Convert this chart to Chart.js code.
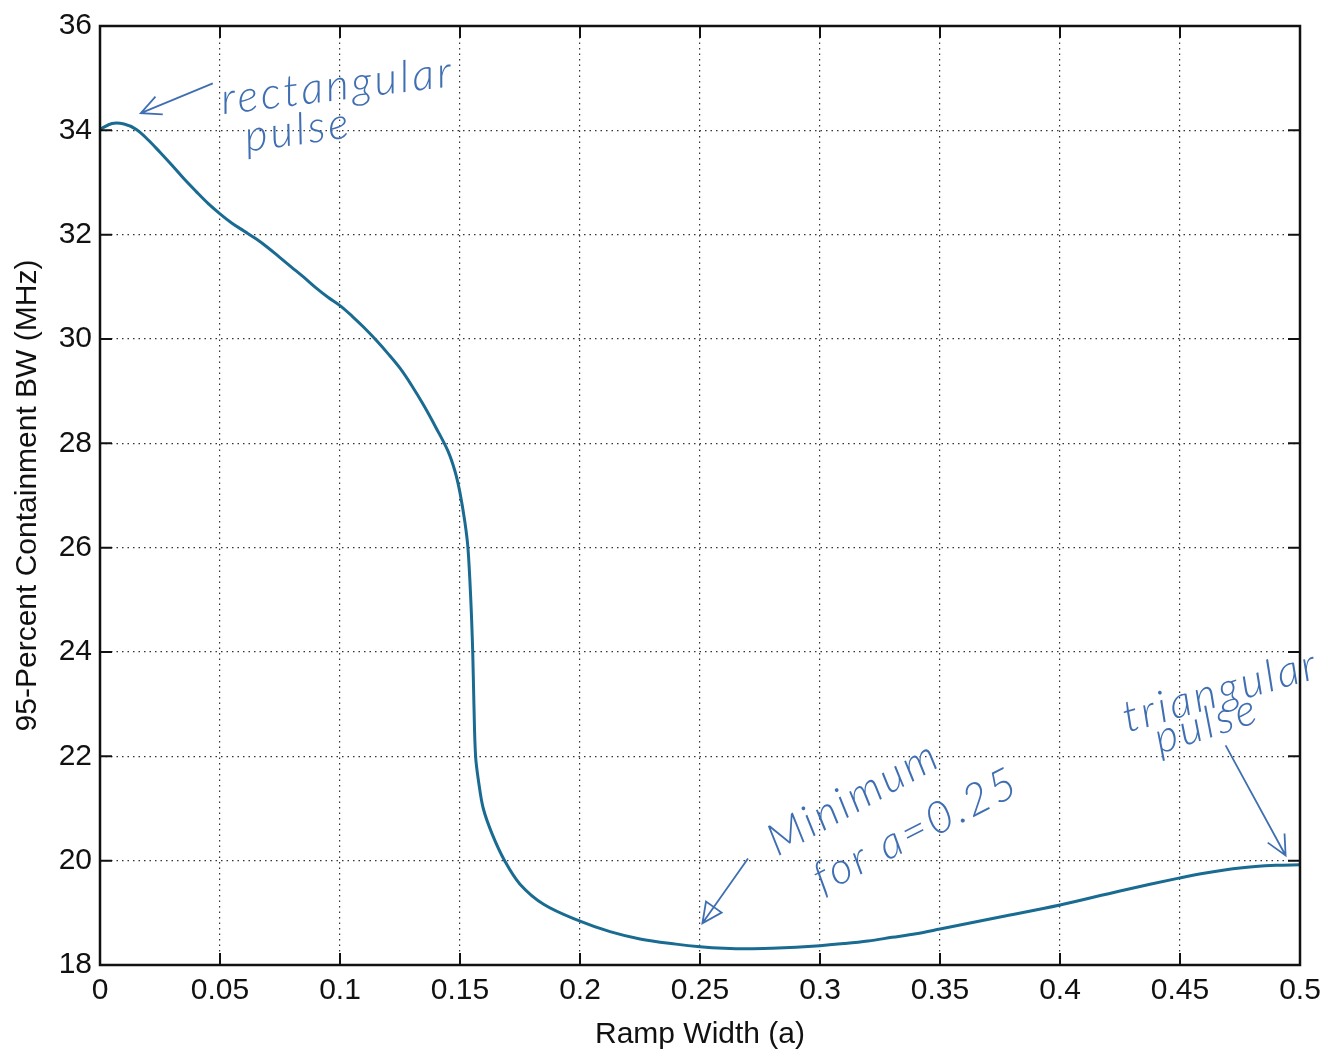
<!DOCTYPE html>
<html>
<head>
<meta charset="utf-8">
<script src="https://cdn.jsdelivr.net/npm/chart.js@4.4.1/dist/chart.umd.min.js"></script>
<style>
  html, body { margin: 0; padding: 0; background: #fff; }
  #wrap { width: 1329px; height: 1055px; }
</style>
</head>
<body>
<div id="wrap"><canvas id="chart" width="1329" height="1055"></canvas></div>
<script>
// ramp width a
const rampWidth = [0, 0.005, 0.01, 0.015, 0.02, 0.025, 0.03, 0.035, 0.04, 0.045, 0.05, 0.055, 0.06, 0.065,
  0.07, 0.075, 0.08, 0.085, 0.09, 0.095, 0.1, 0.105, 0.11, 0.115, 0.12, 0.125, 0.13, 0.135, 0.14, 0.145,
  0.148, 0.15, 0.152, 0.1533, 0.1545, 0.1553, 0.1558, 0.1565, 0.1578, 0.1597, 0.1635, 0.1686, 0.175, 0.185,
  0.2, 0.2125, 0.225, 0.24, 0.25, 0.26, 0.27, 0.28, 0.29, 0.3, 0.31, 0.32, 0.33, 0.34, 0.35, 0.375, 0.4,
  0.425, 0.45, 0.46, 0.475, 0.49, 0.5];
// 95-percent containment bandwidth (MHz)
const bandwidth = [34.02, 34.13, 34.12, 34.02, 33.82, 33.58, 33.33, 33.07, 32.83, 32.6, 32.4, 32.22, 32.07, 31.92,
  31.75, 31.56, 31.37, 31.18, 30.98, 30.8, 30.64, 30.44, 30.22, 29.98, 29.72, 29.44, 29.1, 28.72, 28.3, 27.85,
  27.45, 27.05, 26.5, 26.0, 25.0, 24.0, 23.0, 22.0, 21.5, 21.0, 20.5, 20.0, 19.55, 19.16,
  18.84, 18.64, 18.5, 18.4, 18.35, 18.32, 18.31, 18.32, 18.34, 18.37, 18.41, 18.46, 18.53, 18.6, 18.69, 18.92, 19.15,
  19.42, 19.67, 19.76, 19.86, 19.91, 19.92];

const xTicks = [0, 0.05, 0.1, 0.15, 0.2, 0.25, 0.3, 0.35, 0.4, 0.45, 0.5];
const xTickLabels = ['0', '0.05', '0.1', '0.15', '0.2', '0.25', '0.3', '0.35', '0.4', '0.45', '0.5'];
const yTicks = [18, 20, 22, 24, 26, 28, 30, 32, 34, 36];
const yTickLabels = ['18', '20', '22', '24', '26', '28', '30', '32', '34', '36'];

const xTitle = 'Ramp Width (a)';
const yTitle = '95-Percent Containment BW (MHz)';

// handwritten notes: text, anchor (a, MHz), rotation in degrees
const notes = [
  { text: 'rectangular', x: 0.099, y: 34.85, rot: -7 },
  { text: 'pulse', x: 0.0825, y: 34.0, rot: -8 },
  { text: 'Minimum', x: 0.314, y: 21.2, rot: -29 },
  { text: 'for a=0.25', x: 0.340, y: 20.58, rot: -27 },
  { text: 'triangular', x: 0.467, y: 23.25, rot: -16 },
  { text: 'pulse', x: 0.461, y: 22.62, rot: -18 }
];
// pen arrows: from -> to, in data units
const arrows = [
  { x0: 0.047, y0: 34.9, x1: 0.017, y1: 34.33, head: 'open' },
  { x0: 0.27, y0: 20.04, x1: 0.251, y1: 18.8, head: 'triangle' },
  { x0: 0.469, y0: 22.21, x1: 0.494, y1: 20.1, head: 'open' }
];

const ink = '#3f6fb2';
const axisFont = { family: 'Liberation Sans, Arial, sans-serif', size: 30 };

const matlabBox = {
  id: 'matlabBox',
  afterDraw(chart) {
    const { ctx, chartArea: a, scales } = chart;
    const xs = scales.x, ys = scales.y;
    ctx.save();
    // axes box
    ctx.strokeStyle = '#111';
    ctx.lineWidth = 2.5;
    ctx.strokeRect(a.left, a.top, a.right - a.left, a.bottom - a.top);
    // inward ticks on all four sides
    ctx.lineWidth = 2;
    const tl = 12;
    ctx.beginPath();
    xTicks.forEach(v => {
      const px = xs.getPixelForValue(v);
      ctx.moveTo(px, a.bottom); ctx.lineTo(px, a.bottom - tl);
      ctx.moveTo(px, a.top); ctx.lineTo(px, a.top + tl);
    });
    yTicks.forEach(v => {
      const py = ys.getPixelForValue(v);
      ctx.moveTo(a.left, py); ctx.lineTo(a.left + tl, py);
      ctx.moveTo(a.right, py); ctx.lineTo(a.right - tl, py);
    });
    ctx.stroke();

    // notes
    ctx.fillStyle = ink;
    ctx.strokeStyle = ink;
    ctx.font = 'italic 300 44px Lato, "Noto Sans", sans-serif';
    ctx.letterSpacing = '3px';
    ctx.textAlign = 'center';
    ctx.textBaseline = 'middle';
    notes.forEach(n => {
      ctx.save();
      ctx.translate(xs.getPixelForValue(n.x), ys.getPixelForValue(n.y));
      ctx.rotate(n.rot * Math.PI / 180);
      ctx.fillText(n.text, 0, 0);
      ctx.restore();
    });
    ctx.lineWidth = 1.8;
    arrows.forEach(ar => {
      const x0 = xs.getPixelForValue(ar.x0), y0 = ys.getPixelForValue(ar.y0);
      const x1 = xs.getPixelForValue(ar.x1), y1 = ys.getPixelForValue(ar.y1);
      const ang = Math.atan2(y1 - y0, x1 - x0);
      ctx.beginPath();
      ctx.moveTo(x0, y0); ctx.lineTo(x1, y1);
      const h = 22, s = 0.45;
      const p1 = [x1 - h * Math.cos(ang - s), y1 - h * Math.sin(ang - s)];
      const p2 = [x1 - h * Math.cos(ang + s), y1 - h * Math.sin(ang + s)];
      if (ar.head === 'triangle') {
        ctx.moveTo(p1[0], p1[1]); ctx.lineTo(x1, y1); ctx.lineTo(p2[0], p2[1]); ctx.closePath();
      } else {
        ctx.moveTo(p1[0], p1[1]); ctx.lineTo(x1, y1); ctx.lineTo(p2[0], p2[1]);
      }
      ctx.stroke();
    });
    ctx.restore();
  }
};

new Chart(document.getElementById('chart').getContext('2d'), {
  type: 'line',
  data: {
    datasets: [{
      data: rampWidth.map((x, i) => ({ x: x, y: bandwidth[i] })),
      borderColor: '#1a6b91',
      borderWidth: 3,
      pointRadius: 0,
      fill: false,
      tension: 0.35
    }]
  },
  options: {
    responsive: false,
    animation: false,
    layout: { padding: { top: 25, right: 29, left: 0, bottom: 0 } },
    plugins: { legend: { display: false }, tooltip: { enabled: false } },
    scales: {
      x: {
        type: 'linear', min: 0, max: 0.5,
        afterBuildTicks: s => { s.ticks = xTicks.map(v => ({ value: v })); },
        afterFit: s => { s.height = 90; },
        ticks: { color: '#111', font: axisFont, padding: 8, maxRotation: 0,
          callback: (v, i) => xTickLabels[i] },
        grid: { color: '#333', lineWidth: 1.2, drawTicks: false },
        border: { display: false, dash: [1.5, 4] },
        title: { display: true, text: xTitle, color: '#111', font: axisFont, padding: { top: 0, bottom: 2 } }
      },
      y: {
        type: 'linear', min: 18, max: 36,
        afterBuildTicks: s => { s.ticks = yTicks.map(v => ({ value: v })); },
        afterFit: s => { s.width = 100; },
        ticks: { color: '#111', font: axisFont, padding: 8,
          callback: (v, i) => yTickLabels[i] },
        grid: { color: '#333', lineWidth: 1.2, drawTicks: false },
        border: { display: false, dash: [1.5, 4] },
        title: { display: true, text: yTitle, color: '#111', font: axisFont, padding: { top: 10, bottom: 0 } }
      }
    }
  },
  plugins: [matlabBox]
});
</script>
</body>
</html>
